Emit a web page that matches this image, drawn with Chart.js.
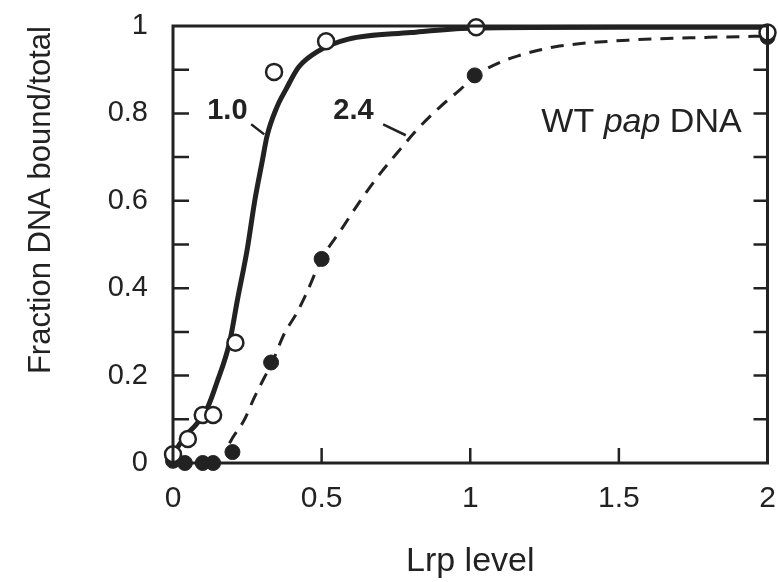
<!DOCTYPE html>
<html>
<head>
<meta charset="utf-8">
<script src="https://cdn.jsdelivr.net/npm/chart.js@4.4.0/dist/chart.umd.min.js"></script>
<style>
  html, body { margin: 0; padding: 0; background: #ffffff; }
  #wrap { width: 778px; height: 582px; }
</style>
</head>
<body>
<div id="wrap"><canvas id="myBindingChart" width="778" height="582"></canvas></div>
<script>
// Lrp level (x) vs fraction of DNA bound (y)
const openX = [0, 0.05, 0.1, 0.135, 0.21, 0.34, 0.515, 1.02, 2.0];
const openY = [0.02, 0.055, 0.11, 0.11, 0.275, 0.895, 0.965, 0.997, 0.985];

const filledX = [0, 0.04, 0.1, 0.135, 0.2, 0.33, 0.5, 1.015, 2.0];
const filledY = [0.005, 0, 0, 0, 0.025, 0.23, 0.467, 0.887, 0.975];

// fitted curves, Hill coefficient 1.0 (solid) and 2.4 (dashed)
const solidX = [0, 0.04, 0.08, 0.117, 0.147, 0.19, 0.217, 0.25, 0.275, 0.3, 0.317, 0.35, 0.38, 0.423, 0.49, 0.59, 0.8, 1.0, 1.5, 2.0];
const solidY = [0.02, 0.06, 0.09, 0.128, 0.183, 0.275, 0.374, 0.49, 0.6, 0.69, 0.75, 0.815, 0.855, 0.906, 0.943, 0.97, 0.985, 0.995, 0.997, 0.997];

const dashX = [0.19, 0.2, 0.24, 0.273, 0.307, 0.335, 0.373, 0.417, 0.45, 0.5, 0.567, 0.63, 0.7, 0.767, 0.813, 0.897, 0.967, 1.017, 1.1, 1.167, 1.233, 1.3, 1.54, 1.8, 2.0];
const dashY = [0.045, 0.057, 0.099, 0.149, 0.195, 0.232, 0.294, 0.344, 0.39, 0.467, 0.535, 0.6, 0.665, 0.72, 0.757, 0.814, 0.855, 0.886, 0.917, 0.933, 0.945, 0.954, 0.968, 0.974, 0.977];

const xTickValues = [0, 0.5, 1, 1.5, 2];

const ink = "#222222";
const fontFamily = "'Liberation Sans', Arial, Helvetica, sans-serif";

function toPoints(xs, ys) {
  return xs.map((x, i) => ({ x: x, y: ys[i] }));
}

// frame, inward tick marks and the in-plot labels
const framePlugin = {
  id: "frame",
  afterDatasetsDraw(chart) {
    const ctx = chart.ctx;
    const area = chart.chartArea;
    const xs = chart.scales.x;
    const ys = chart.scales.y;
    ctx.save();
    ctx.strokeStyle = ink;
    ctx.lineWidth = 3;
    ctx.strokeRect(area.left, area.top, area.right - area.left, area.bottom - area.top);

    ctx.lineWidth = 2.5;
    ys.ticks.forEach((t) => {
      if (t.value <= 0 || t.value >= 1) return;
      const py = ys.getPixelForValue(t.value);
      ctx.beginPath();
      ctx.moveTo(area.left, py);
      ctx.lineTo(area.left + 16, py);
      ctx.moveTo(area.right, py);
      ctx.lineTo(area.right - 14, py);
      ctx.stroke();
    });
    xs.ticks.forEach((t) => {
      if (t.value <= 0 || t.value >= 2) return;
      const px = xs.getPixelForValue(t.value);
      ctx.beginPath();
      ctx.moveTo(px, area.bottom);
      ctx.lineTo(px, area.bottom - 15);
      ctx.stroke();
    });

    // curve labels with leader lines
    ctx.fillStyle = ink;
    ctx.font = "bold 29px " + fontFamily;
    ctx.textAlign = "center";
    ctx.textBaseline = "middle";
    ctx.fillText("1.0", xs.getPixelForValue(0.183), ys.getPixelForValue(0.805));
    ctx.fillText("2.4", xs.getPixelForValue(0.607), ys.getPixelForValue(0.805));
    ctx.lineWidth = 2.5;
    ctx.beginPath();
    ctx.moveTo(xs.getPixelForValue(0.263), ys.getPixelForValue(0.775));
    ctx.lineTo(xs.getPixelForValue(0.307), ys.getPixelForValue(0.752));
    ctx.moveTo(xs.getPixelForValue(0.707), ys.getPixelForValue(0.775));
    ctx.lineTo(xs.getPixelForValue(0.783), ys.getPixelForValue(0.75));
    ctx.stroke();

    // "WT pap DNA", right aligned, pap in italics
    const right = xs.getPixelForValue(1.913);
    const base = ys.getPixelForValue(0.757);
    ctx.textAlign = "left";
    ctx.textBaseline = "alphabetic";
    const normal = "34px " + fontFamily;
    const italic = "italic 34px " + fontFamily;
    ctx.font = normal;
    const w1 = ctx.measureText("WT ").width;
    const w3 = ctx.measureText(" DNA").width;
    ctx.font = italic;
    const w2 = ctx.measureText("pap").width;
    let px = right - w1 - w2 - w3;
    ctx.font = normal;
    ctx.fillText("WT ", px, base);
    px += w1;
    ctx.font = italic;
    ctx.fillText("pap", px, base);
    px += w2;
    ctx.font = normal;
    ctx.fillText(" DNA", px, base);
    ctx.restore();
  },
};

const myBindingChart = document.getElementById("myBindingChart").getContext("2d");
const chart = new Chart(myBindingChart, {
  type: "scatter",
  data: {
    datasets: [
      {
        label: "open",
        data: toPoints(openX, openY),
        showLine: false,
        pointRadius: 8,
        pointBorderWidth: 2.5,
        pointBorderColor: ink,
        pointBackgroundColor: "#ffffff",
        order: 0,
      },
      {
        label: "filled",
        data: toPoints(filledX, filledY),
        showLine: false,
        pointRadius: 7.5,
        pointBorderWidth: 1,
        pointBorderColor: ink,
        pointBackgroundColor: ink,
        order: 1,
      },
      {
        label: "1.0",
        data: toPoints(solidX, solidY),
        showLine: true,
        pointRadius: 0,
        borderColor: ink,
        borderWidth: 5,
        cubicInterpolationMode: "monotone",
        order: 2,
      },
      {
        label: "2.4",
        data: toPoints(dashX, dashY),
        showLine: true,
        pointRadius: 0,
        borderColor: ink,
        borderWidth: 3,
        borderDash: [13, 9],
        cubicInterpolationMode: "monotone",
        order: 3,
      },
    ],
  },
  options: {
    responsive: false,
    animation: false,
    devicePixelRatio: 1,
    clip: false,
    layout: {
      padding: { left: 10, right: 5, top: 26, bottom: 0 },
    },
    scales: {
      x: {
        type: "linear",
        min: 0,
        max: 2,
        border: { display: false },
        grid: { display: false, drawTicks: false },
        afterBuildTicks(scale) {
          scale.ticks = xTickValues.map((v) => ({ value: v }));
        },
        afterFit(scale) {
          scale.height = 582 - 463;
          scale.paddingLeft = 0;
          scale.paddingRight = 0;
        },
        ticks: {
          autoSkip: false,
          maxRotation: 0,
          padding: 18,
          color: ink,
          font: { family: fontFamily, size: 30 },
          callback: (v) => String(v),
        },
        title: {
          display: true,
          text: "Lrp level",
          color: ink,
          padding: { top: 0, bottom: 0 },
          font: { family: fontFamily, size: 34 },
        },
      },
      y: {
        min: 0,
        max: 1,
        border: { display: false },
        grid: { display: false, drawTicks: false },
        afterFit(scale) {
          scale.width = 173 - 10;
          scale.paddingTop = 0;
          scale.paddingBottom = 0;
        },
        ticks: {
          stepSize: 0.1,
          autoSkip: false,
          padding: 25,
          color: ink,
          font: { family: fontFamily, size: 29 },
          callback: (v, i) => (i % 2 === 0 ? String(Math.round(v * 10) / 10) : ""),
        },
        title: {
          display: true,
          text: "Fraction DNA bound/total",
          align: "end",
          color: ink,
          padding: { top: 13, bottom: 0 },
          font: { family: fontFamily, size: 31 },
        },
      },
    },
    plugins: {
      legend: { display: false },
      tooltip: { enabled: false },
    },
  },
  plugins: [framePlugin],
});
</script>
</body>
</html>
